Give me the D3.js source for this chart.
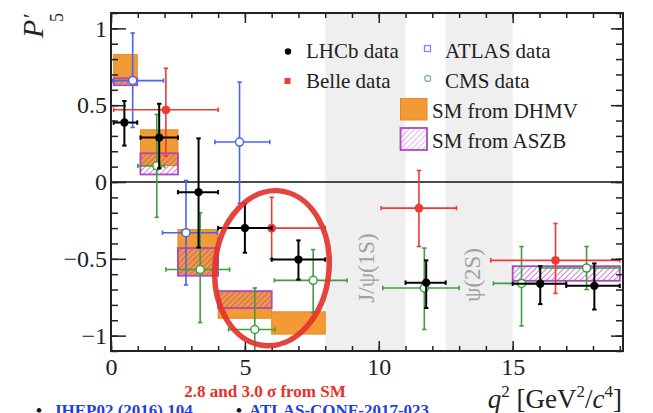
<!DOCTYPE html>
<html>
<head>
<meta charset="utf-8">
<script src="https://cdn.jsdelivr.net/npm/d3@7"></script>
<style>
  html, body { margin: 0; padding: 0; background: #fff; }
  svg { display: block; font-family: "Liberation Serif", "DejaVu Serif", serif; }
</style>
</head>
<body>
<svg id="chart" width="653" height="413"></svg>
<script>
// ---------------- data ----------------
const xTickLabels = [0, 5, 10, 15];
const yTickLabels = [-1, -0.5, 0, 0.5, 1];
const vetoBandLo = [8.0, 12.5];
const vetoBandHi = [11.0, 15.0];
const vetoBandLabel = ["J/\u03C8(1S)", "\u03C8(2S)"];

// LHCb
const lhcbX    = [0.50, 1.80, 3.27, 5.00, 7.00, 11.77, 16.03, 18.05];
const lhcbLo   = [0.10, 1.10, 2.50, 4.00, 6.00, 11.00, 15.00, 17.00];
const lhcbHi   = [0.98, 2.50, 4.00, 6.00, 8.00, 12.50, 17.00, 19.00];
const lhcbY    = [0.387, 0.289, -0.066, -0.300, -0.505, -0.655, -0.662, -0.676];
const lhcbUp   = [0.14, 0.22, 0.35, 0.16, 0.125, 0.145, 0.114, 0.146];
const lhcbDn   = [0.15, 0.20, 0.36, 0.16, 0.13, 0.165, 0.133, 0.154];

// Belle
const belleX   = [2.05, 6.00, 11.50, 16.60];
const belleLo  = [0.10, 4.00, 10.09, 14.18];
const belleHi  = [4.00, 8.00, 12.90, 19.00];
const belleY   = [0.47, -0.30, -0.17, -0.51];
const belleUp  = [0.27, 0.20, 0.245, 0.24];
const belleDn  = [0.30, 0.20, 0.25, 0.215];

// ATLAS
const atlasX   = [0.81, 2.80, 4.80];
const atlasLo  = [0.04, 1.92, 3.88];
const atlasHi  = [1.96, 3.96, 5.93];
const atlasY   = [0.66, -0.33, 0.26];
const atlasUp  = [0.31, 0.34, 0.39];
const atlasDn  = [0.305, 0.34, 0.40];

// CMS
const cmsX     = [1.71, 3.33, 5.37, 7.55, 11.70, 15.33, 17.76];
const cmsLo    = [1.00, 2.05, 4.39, 6.10, 10.15, 14.28, 16.00];
const cmsHi    = [2.00, 4.43, 6.12, 8.82, 13.00, 16.00, 19.00];
const cmsY     = [0.105, -0.57, -0.96, -0.64, -0.69, -0.66, -0.56];
const cmsUp    = [0.335, 0.37, 0.27, 0.20, 0.26, 0.24, 0.14];
const cmsDn    = [0.335, 0.345, 0.21, 0.21, 0.27, 0.277, 0.14];

// SM predictions
const dhmvLo   = [0.10, 1.10, 2.50, 4.00, 6.00];
const dhmvHi   = [0.98, 2.50, 4.00, 6.00, 8.00];
const dhmvTop  = [0.83, 0.34, -0.31, -0.715, -0.845];
const dhmvBot  = [0.64, 0.107, -0.60, -0.887, -0.99];

const aszbLo   = [0.10, 1.10, 2.50, 4.00, 15.00];
const aszbHi   = [0.98, 2.50, 4.00, 6.00, 19.00];
const aszbTop  = [0.675, 0.187, -0.43, -0.71, -0.548];
const aszbBot  = [0.63, 0.049, -0.61, -0.82, -0.643];

// annotation ellipse (data units)
const ringCenter = [6.01, -0.561];
const ringRadius = [2.13, 0.506];

const legendLabels = ["LHCb data", "Belle data", "ATLAS data", "CMS data", "SM from DHMV", "SM from ASZB"];

// ---------------- layout ----------------
const svg = d3.select("#chart");
const L = 111, R = 623, T = 13, B = 351;
const x = d3.scaleLinear().domain([0, 19.12]).range([L, R]);
const y = d3.scaleLinear().domain([-1.1, 1.1]).range([B, T]);

const col = {
  lhcb: "#000000", belle: "#ee3a35", atlas: "#4a63f2", cms: "#3f9e3f",
  orange: "#f29a33", orangeEdge: "#e08a2a", purple: "#b046c0", hatch: "#b24cbd",
  ring: "#e3332e", band: "#efefef", text: "#222222"
};

const defs = svg.append("defs");
defs.append("clipPath").attr("id", "plotclip")
  .append("rect").attr("x", L).attr("y", T).attr("width", R - L).attr("height", B - T);
const pat = defs.append("pattern").attr("id", "hatch")
  .attr("patternUnits", "userSpaceOnUse").attr("width", 4).attr("height", 4)
  .attr("patternTransform", "rotate(45)");
pat.append("line").attr("x1", 0).attr("y1", 0).attr("x2", 0).attr("y2", 4)
  .attr("stroke", col.hatch).attr("stroke-width", 1.4);
const patL = defs.append("pattern").attr("id", "hatchLight")
  .attr("patternUnits", "userSpaceOnUse").attr("width", 4).attr("height", 4)
  .attr("patternTransform", "rotate(45)");
patL.append("line").attr("x1", 0).attr("y1", 0).attr("x2", 0).attr("y2", 4)
  .attr("stroke", "#d58ede").attr("stroke-width", 1.3);

const plot = svg.append("g").attr("clip-path", "url(#plotclip)");

// veto bands
plot.selectAll("rect.band").data(vetoBandLo).join("rect")
  .attr("class", "band")
  .attr("x", (d) => x(d)).attr("y", T)
  .attr("width", (d, i) => x(vetoBandHi[i]) - x(d)).attr("height", B - T)
  .attr("fill", col.band);

// band labels
vetoBandLabel.forEach((lab, i) => {
  const cx = i === 0 ? 374 : 480;
  const cy = i === 0 ? 268 : 275;
  svg.append("text").attr("transform", `translate(${cx},${cy}) rotate(-90)`)
    .attr("text-anchor", "middle").attr("font-size", 23).attr("fill", "#a0a0a0")
    .text(lab);
});

// SM DHMV
plot.selectAll("rect.dhmv").data(dhmvLo).join("rect")
  .attr("class", "dhmv")
  .attr("x", (d) => x(d)).attr("y", (d, i) => y(dhmvTop[i]))
  .attr("width", (d, i) => x(dhmvHi[i]) - x(d))
  .attr("height", (d, i) => y(dhmvBot[i]) - y(dhmvTop[i]))
  .attr("fill", col.orange).attr("stroke", col.orangeEdge).attr("stroke-width", 1);

// SM ASZB
plot.selectAll("rect.aszb").data(aszbLo).join("rect")
  .attr("class", "aszb")
  .attr("x", (d) => x(d)).attr("y", (d, i) => y(aszbTop[i]))
  .attr("width", (d, i) => x(aszbHi[i]) - x(d))
  .attr("height", (d, i) => y(aszbBot[i]) - y(aszbTop[i]))
  .attr("fill", "url(#hatch)").attr("stroke", col.purple).attr("stroke-width", 1.8);

// zero line
plot.append("line").attr("x1", L).attr("x2", R).attr("y1", y(0)).attr("y2", y(0))
  .attr("stroke", "#111").attr("stroke-width", 1.6);

// generic error-bar series
function series(X, Lo, Hi, Y, Up, Dn, color, sw, marker) {
  const g = plot.append("g");
  const cap = 2.2;
  X.forEach((xv, i) => {
    const yc = y(Y[i]);
    g.append("line").attr("x1", x(Lo[i])).attr("x2", x(Hi[i])).attr("y1", yc).attr("y2", yc)
      .attr("stroke", color).attr("stroke-width", sw);
    g.append("line").attr("x1", x(xv)).attr("x2", x(xv))
      .attr("y1", y(Y[i] + Up[i])).attr("y2", y(Y[i] - Dn[i]))
      .attr("stroke", color).attr("stroke-width", sw);
    [[x(Lo[i]), yc, true], [x(Hi[i]), yc, true], [x(xv), y(Y[i] + Up[i]), false], [x(xv), y(Y[i] - Dn[i]), false]]
      .forEach(([px, py, vert]) => {
        g.append("line")
          .attr("x1", vert ? px : px - cap).attr("x2", vert ? px : px + cap)
          .attr("y1", vert ? py - cap : py).attr("y2", vert ? py + cap : py)
          .attr("stroke", color).attr("stroke-width", sw);
      });
    if (marker === "open") {
      g.append("circle").attr("cx", x(xv)).attr("cy", yc).attr("r", 4)
        .attr("fill", "#fff").attr("stroke", color).attr("stroke-width", 1.5);
    } else {
      g.append("circle").attr("cx", x(xv)).attr("cy", yc).attr("r", marker === "big" ? 4.4 : 4.2)
        .attr("fill", color);
    }
  });
}
series(atlasX, atlasLo, atlasHi, atlasY, atlasUp, atlasDn, col.atlas, 1.6, "open");
series(cmsX, cmsLo, cmsHi, cmsY, cmsUp, cmsDn, col.cms, 1.6, "open");
series(belleX, belleLo, belleHi, belleY, belleUp, belleDn, col.belle, 1.6, "big");
series(lhcbX, lhcbLo, lhcbHi, lhcbY, lhcbUp, lhcbDn, col.lhcb, 2, "dot");

// ---------------- axes ----------------
const xMinor = d3.range(0, 20, 1);
const yMinor = d3.range(-11, 12).map((d) => d / 10);

function styleAxis(g) {
  g.select(".domain").remove();
  g.selectAll(".tick line").attr("stroke", "#222").attr("stroke-width", 1.5);
  g.selectAll(".tick text").attr("fill", col.text)
    .attr("font-family", "Liberation Serif, serif").attr("font-size", 24);
}
svg.append("g").attr("transform", `translate(0,${B})`)
  .call(d3.axisBottom(x).tickValues(xMinor).tickSize(-5).tickFormat("")).call(styleAxis);
svg.append("g").attr("transform", `translate(0,${B})`)
  .call(d3.axisBottom(x).tickValues(xTickLabels).tickSize(-10).tickPadding(7).tickFormat(d3.format("d"))).call(styleAxis);
svg.append("g").attr("transform", `translate(0,${T})`)
  .call(d3.axisTop(x).tickValues(xMinor).tickSize(-5).tickFormat("")).call(styleAxis);
svg.append("g").attr("transform", `translate(0,${T})`)
  .call(d3.axisTop(x).tickValues(xTickLabels).tickSize(-10).tickFormat("")).call(styleAxis);

const fmtY = (d) => (d === 0 ? "0" : (Number.isInteger(d) ? d3.format("d")(d) : d3.format(".1f")(d)).replace("-", "\u2212"));
svg.append("g").attr("transform", `translate(${L},0)`)
  .call(d3.axisLeft(y).tickValues(yMinor).tickSize(-7).tickFormat("")).call(styleAxis);
svg.append("g").attr("transform", `translate(${L},0)`)
  .call(d3.axisLeft(y).tickValues(yTickLabels).tickSize(-15).tickPadding(4).tickFormat(fmtY)).call(styleAxis);
svg.append("g").attr("transform", `translate(${R},0)`)
  .call(d3.axisRight(y).tickValues(yMinor).tickSize(-7).tickFormat("")).call(styleAxis);
svg.append("g").attr("transform", `translate(${R},0)`)
  .call(d3.axisRight(y).tickValues(yTickLabels).tickSize(-12).tickFormat("")).call(styleAxis);

// frame
svg.append("rect").attr("x", L).attr("y", T).attr("width", R - L).attr("height", B - T)
  .attr("fill", "none").attr("stroke", "#222").attr("stroke-width", 2);

// axis titles
const yt = svg.append("g").attr("transform", "translate(43,38) rotate(-90)").attr("fill", col.text);
yt.append("text").attr("x", 0).attr("y", 0).attr("font-size", 30).attr("font-style", "italic").text("P");
yt.append("text").attr("x", 20).attr("y", -5).attr("font-size", 22).text("\u2032");
yt.append("text").attr("x", 16).attr("y", 20).attr("font-size", 18).text("5");

const xt = svg.append("text").attr("x", 622).attr("y", 408).attr("text-anchor", "end")
  .attr("font-size", 27).attr("fill", col.text);
xt.append("tspan").attr("font-style", "italic").text("q");
xt.append("tspan").attr("font-size", 17).attr("dy", -11).text("2");
xt.append("tspan").attr("dy", 11).text(" [GeV");
xt.append("tspan").attr("font-size", 17).attr("dy", -11).text("2");
xt.append("tspan").attr("dy", 11).text("/");
xt.append("tspan").attr("font-style", "italic").text("c");
xt.append("tspan").attr("font-size", 17).attr("dy", -11).text("4");
xt.append("tspan").attr("dy", 11).text("]");

// ---------------- legend ----------------
const lg = svg.append("g").attr("font-size", 21).attr("fill", col.text);
lg.append("circle").attr("cx", 288).attr("cy", 51.5).attr("r", 3.2).attr("fill", col.lhcb);
lg.append("text").attr("x", 306).attr("y", 57.5).text(legendLabels[0]);
lg.append("rect").attr("x", 284.5).attr("y", 78).attr("width", 6).attr("height", 6).attr("fill", col.belle);
lg.append("text").attr("x", 306).attr("y", 87.5).text(legendLabels[1]);
lg.append("rect").attr("x", 424.5).attr("y", 45.5).attr("width", 6).attr("height", 6)
  .attr("fill", "#fff").attr("stroke", "#7f86f5").attr("stroke-width", 1.3);
lg.append("text").attr("x", 445).attr("y", 57.5).text(legendLabels[2]);
lg.append("circle").attr("cx", 427.7).attr("cy", 78.5).attr("r", 3)
  .attr("fill", "#fff").attr("stroke", "#7fbf7f").attr("stroke-width", 1.3);
lg.append("text").attr("x", 445).attr("y", 87.5).text(legendLabels[3]);
lg.append("rect").attr("x", 400.5).attr("y", 98.5).attr("width", 26.5).attr("height", 21.5)
  .attr("fill", col.orange).attr("stroke", col.orangeEdge).attr("stroke-width", 1);
lg.append("text").attr("x", 432).attr("y", 117.5).text(legendLabels[4]);
lg.append("rect").attr("x", 400.5).attr("y", 128).attr("width", 26.5).attr("height", 22)
  .attr("fill", "url(#hatchLight)").attr("stroke", col.purple).attr("stroke-width", 1.8);
lg.append("text").attr("x", 432).attr("y", 147.5).text(legendLabels[5]);

// ---------------- annotations ----------------
const rcx = x(ringCenter[0]), rcy = y(ringCenter[1]);
svg.append("ellipse")
  .attr("transform", `translate(${rcx},${rcy}) rotate(6)`)
  .attr("rx", x(ringRadius[0]) - x(0)).attr("ry", y(0) - y(ringRadius[1]))
  .attr("fill", "none").attr("stroke", col.ring).attr("stroke-width", 5.5).attr("opacity", 0.92);

svg.append("text").attr("x", 265).attr("y", 397).attr("text-anchor", "middle")
  .attr("font-size", 17).attr("font-weight", "bold").attr("fill", "#e8302a")
  .text("2.8 and 3.0 \u03C3 from SM");

const ref = svg.append("g").attr("font-size", 17).attr("font-weight", "bold");
ref.append("text").attr("x", 36).attr("y", 416).attr("fill", "#111").text("\u2022");
ref.append("text").attr("x", 53).attr("y", 416).attr("fill", "#1f3fe0").text("JHEP02 (2016) 104");
ref.append("text").attr("x", 236).attr("y", 416).attr("fill", "#111").text("\u2022");
ref.append("text").attr("x", 249).attr("y", 416).attr("fill", "#1f3fe0").text("ATLAS-CONF-2017-023");
</script>
</body>
</html>
